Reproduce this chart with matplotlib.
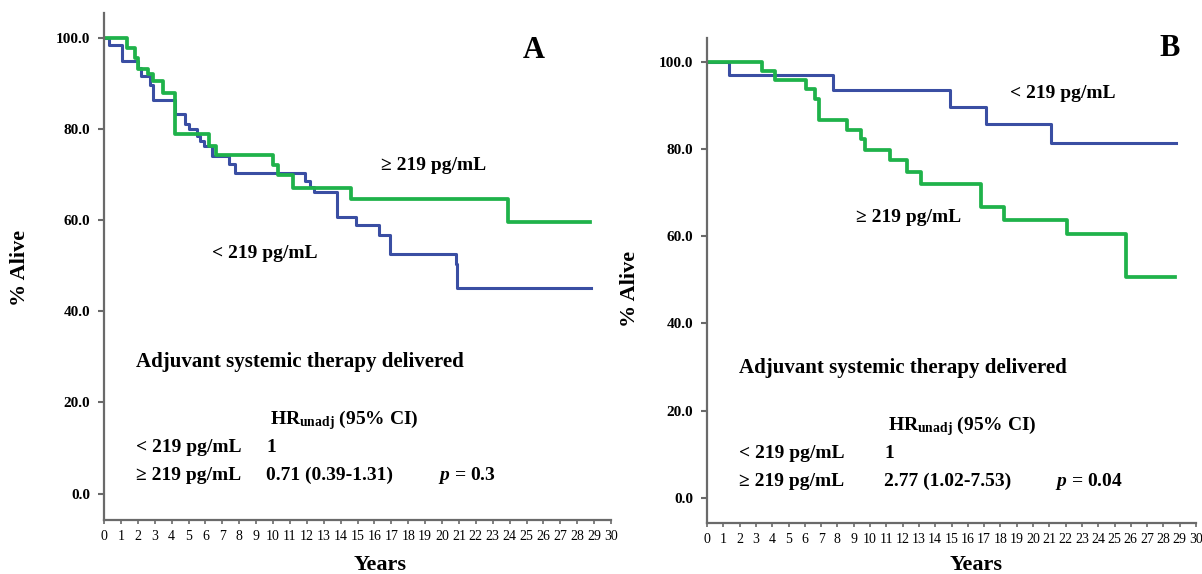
import matplotlib
matplotlib.use("Agg")
import matplotlib.pyplot as plt

plt.rcParams['font.family'] = ['Liberation Serif', 'DejaVu Serif']
plt.rcParams['mathtext.fontset'] = 'custom'
plt.rcParams['mathtext.rm'] = 'Liberation Serif:bold'
plt.rcParams['mathtext.bf'] = 'Liberation Serif:bold'
plt.rcParams['mathtext.it'] = 'Liberation Serif:italic:bold'

# Panel A - step curves (years, % alive)
a_low_t = [0, 0.3, 1.05, 2.0, 2.2, 2.7, 2.9, 4.2, 4.8, 5.0, 5.5, 5.7, 5.9, 6.4, 7.4, 7.75,
           11.9, 12.2, 12.4, 13.8, 14.9, 16.3, 16.9, 20.8, 20.9, 28.8]
a_low_s = [100, 98.5, 95, 93.5, 91.6, 89.8, 86.5, 83.3, 81.1, 80.0, 78.5, 77.5, 76.4, 74.2,
           72.4, 70.4, 68.7, 67.3, 66.3, 60.7, 58.9, 56.7, 52.7, 50.5, 45.2, 45.2]
a_high_t = [0, 1.34, 1.83, 2.0, 2.6, 2.9, 3.5, 4.2, 6.2, 6.6, 10.0, 10.3, 11.2, 14.6, 23.9, 28.75]
a_high_s = [100, 97.8, 95.6, 93.1, 92.0, 90.5, 88.0, 78.9, 76.4, 74.4, 72.1, 70.0, 67.0,
            64.7, 59.7, 59.7]

# Panel B
b_low_t = [0, 1.33, 7.7, 14.9, 17.1, 21.1, 28.8]
b_low_s = [100, 96.9, 93.5, 89.7, 85.7, 81.3, 81.3]
b_high_t = [0, 3.4, 4.16, 6.1, 6.6, 6.9, 8.6, 9.45, 9.7, 11.2, 12.3, 13.1, 16.8, 18.2, 22.1,
            25.7, 28.7]
b_high_s = [100, 97.9, 95.8, 93.7, 91.4, 86.7, 84.4, 82.3, 79.9, 77.6, 74.8, 72.1, 66.7,
            63.8, 60.6, 50.7, 50.7]

y_ticks = [0, 20, 40, 60, 80, 100]
y_labels = ['0.0', '20.0', '40.0', '60.0', '80.0', '100.0']
x_ticks = list(range(0, 31))

hr_a = ['1', '0.71 (0.39-1.31)']
hr_b = ['1', '2.77 (1.02-7.53)']
p_a = '0.3'
p_b = '0.04'

BLUE = '#3a4ea3'
GREEN = '#1fb24a'
W, H = 1202, 574

fig = plt.figure(figsize=(W / 100, H / 100), dpi=100)


def px(x, y):
    return x / W, 1 - y / H


def make_axes(left, right, bottom, top):
    l, b = px(left, bottom)
    r, t = px(right, top)
    ax = fig.add_axes([l, b, r - l, t - b])
    ax.set_xlim(0, 30)
    ax.set_ylim(-5.8, 105.5)
    for s in ['top', 'right']:
        ax.spines[s].set_visible(False)
    for s in ['left', 'bottom']:
        ax.spines[s].set_color('#6a6a6a')
        ax.spines[s].set_linewidth(1.6)
    ax.set_yticks(y_ticks)
    ax.set_yticklabels(y_labels, fontsize=11, fontweight='bold')
    ax.set_xticks(x_ticks)
    ax.set_xticklabels([str(v) for v in x_ticks], fontsize=10)
    ax.tick_params(axis='y', length=4, width=1.5, color='#6a6a6a', pad=6)
    ax.tick_params(axis='x', length=3, width=1.2, color='#6a6a6a', pad=4)
    ax.patch.set_alpha(0)
    return ax


axA = make_axes(104, 611, 520, 13)
axA.step(a_low_t, a_low_s, where='post', color=BLUE, lw=2.2)
axA.step(a_high_t, a_high_s, where='post', color=GREEN, lw=2.7)

axB = make_axes(707, 1196, 523, 38)
axB.step(b_low_t, b_low_s, where='post', color=BLUE, lw=2.2)
axB.step(b_high_t, b_high_s, where='post', color=GREEN, lw=2.7)

bold = dict(fontweight='bold', va='center')


def t(x, y, s, size=14, ha='left', **kw):
    fx, fy = px(x, y)
    fig.text(fx, fy, s, fontsize=size, ha=ha, **dict(bold, **kw))


# axis titles and panel letters
t(20, 268, '% Alive', 16, ha='center', rotation=90)
t(630, 289, '% Alive', 16, ha='center', rotation=90)
t(380, 565, 'Years', 16, ha='center')
t(976, 565, 'Years', 16, ha='center')
t(534, 50, 'A', 22, ha='center')
t(1170, 48, 'B', 22, ha='center')

# curve labels
t(381, 165, '≥ 219 pg/mL', 14)
t(212, 254, '< 219 pg/mL', 14)
t(1010, 93, '< 219 pg/mL', 14)
t(856, 217, '≥ 219 pg/mL', 14)

# HR tables
for x0, xv, xp, y0, hr, p in [(136, 266, 438, 362, hr_a, p_a), (739, 884, 1055, 368, hr_b, p_b)]:
    t(x0, y0, 'Adjuvant systemic therapy delivered', 15)
    t(xv + 4, y0 + 58, r'HR$_{\mathrm{unadj}}$ (95% CI)', 14)
    t(x0, y0 + 85, '< 219 pg/mL', 14)
    t(xv, y0 + 85, hr[0], 14)
    t(x0, y0 + 113, '≥ 219 pg/mL', 14)
    t(xv, y0 + 113, hr[1], 14)
    t(xp, y0 + 113, r'$\mathit{p}$ = ' + p, 14)

fig.savefig('out.png', dpi=100)
